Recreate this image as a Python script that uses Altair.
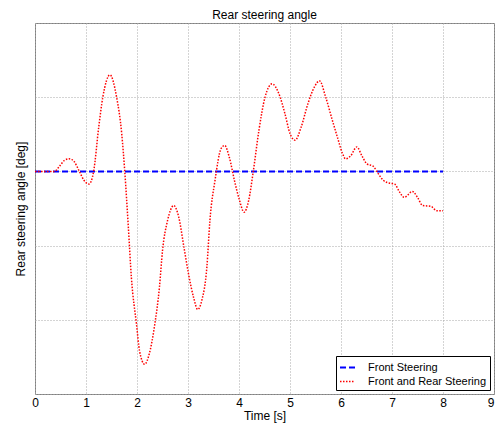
import altair as alt
import pandas as pd

# Front and Rear Steering (red dotted)
t_fr = [0.0, 0.2, 0.38, 0.48, 0.58, 0.67, 0.77, 0.87, 0.96, 1.06, 1.15, 1.25, 1.33, 1.47,
        1.60, 1.70, 1.76, 1.83, 1.89, 1.99, 2.05, 2.15, 2.24, 2.34, 2.44, 2.50, 2.60, 2.72,
        2.82, 2.92, 3.01, 3.11, 3.19, 3.27, 3.37, 3.43, 3.53, 3.65, 3.72, 3.81, 3.91, 4.01,
        4.10, 4.19, 4.28, 4.39, 4.51, 4.65, 4.78, 4.90, 5.00, 5.10, 5.22, 5.35, 5.48, 5.58,
        5.70, 5.83, 5.93, 6.03, 6.09, 6.19, 6.31, 6.41, 6.51, 6.63, 6.73, 6.83, 6.96, 7.05,
        7.15, 7.24, 7.40, 7.50, 7.60, 7.76, 7.88, 8.0]
y_fr = [0.0, 0.0, 0.0, 0.07, 0.15, 0.17, 0.13, 0.0, -0.12, -0.17, 0.0, 0.6, 1.0, 1.30,
        1.0, 0.51, 0.0, -0.75, -1.43, -2.06, -2.42, -2.60, -2.46, -2.10, -1.56, -1.07, -0.66, -0.46,
        -0.62, -1.02, -1.38, -1.70, -1.86, -1.74, -1.29, -0.66, -0.12, 0.31, 0.35, 0.19, -0.12, -0.39,
        -0.55, -0.39, 0.0, 0.55, 1.0, 1.18, 1.05, 0.78, 0.51, 0.42, 0.60, 0.91, 1.14, 1.22,
        1.0, 0.69, 0.46, 0.24, 0.17, 0.21, 0.33, 0.21, 0.10, 0.07, -0.03, -0.12, -0.16, -0.17,
        -0.28, -0.35, -0.27, -0.35, -0.46, -0.47, -0.53, -0.53]

# Front Steering (blue dashed)
t_f = [0.0, 8.0]
y_f = [0.0, 0.0]

series_names = ["Front Steering", "Front and Rear Steering"]
x_ticks = [0, 1, 2, 3, 4, 5, 6, 7, 8, 9]
y_ticks = [-3, -2, -1, 0, 1, 2]

df = pd.concat([
    pd.DataFrame({"t": t_f, "y": y_f, "series": series_names[0], "ord": range(len(t_f))}),
    pd.DataFrame({"t": t_fr, "y": y_fr, "series": series_names[1], "ord": range(len(t_fr))}),
])

font = "Liberation Sans"

chart = alt.Chart(df).mark_line(interpolate="monotone").encode(
    x=alt.X("t:Q", scale=alt.Scale(domain=[0, 9], nice=False),
            axis=alt.Axis(values=x_ticks, title="Time [s]", format="d", grid=True,
                          ticks=False, domain=False, labelPadding=3, titlePadding=2,
                          labelFlush=False,
                          labelAlign={"condition": {"test": "datum.value == 9", "value": "right"},
                                      "value": "center"})),
    y=alt.Y("y:Q", scale=alt.Scale(domain=[-3, 2], nice=False),
            axis=alt.Axis(values=y_ticks, title="Rear steering angle [deg]", labels=False,
                          grid=True, ticks=False, domain=False, titlePadding=8)),
    color=alt.Color("series:N", scale=alt.Scale(domain=series_names, range=["#0000ff", "#ff0000"]),
                    legend=alt.Legend(title=None)),
    strokeDash=alt.StrokeDash("series:N", scale=alt.Scale(domain=series_names, range=[[6, 3], [1.5, 1.5]]),
                              legend=alt.Legend(title=None)),
    strokeWidth=alt.StrokeWidth("series:N", scale=alt.Scale(domain=series_names, range=[2, 1.5]),
                                legend=None),
    order="ord:Q",
).properties(
    width=459, height=371,
    title=alt.TitleParams("Rear steering angle", fontSize=12, fontWeight="normal", font=font,
                          offset=1, color="black"),
    autosize=alt.AutoSizeParams(type="none"),
    padding={"left": 27, "top": 15, "right": 1, "bottom": 31},
).configure_view(
    stroke="#808080", strokeWidth=1
).configure_axis(
    gridColor="#a8a8a8", gridDash=[1, 2], gridWidth=1, gridOpacity=1,
    labelFont=font, titleFont=font, labelFontSize=12, titleFontSize=12,
    labelColor="black", titleColor="black", titleFontWeight="normal"
).configure_legend(
    orient="bottom-right", offset=4, strokeColor="black", fillColor="white",
    padding=3, symbolType="stroke", symbolSize=225, symbolStrokeWidth=2,
    labelFont=font, labelFontSize=11, labelColor="black", rowPadding=0, labelOffset=12,
    cornerRadius=0
)

chart.save("out.html", embed_options={"renderer": "svg", "actions": False})
